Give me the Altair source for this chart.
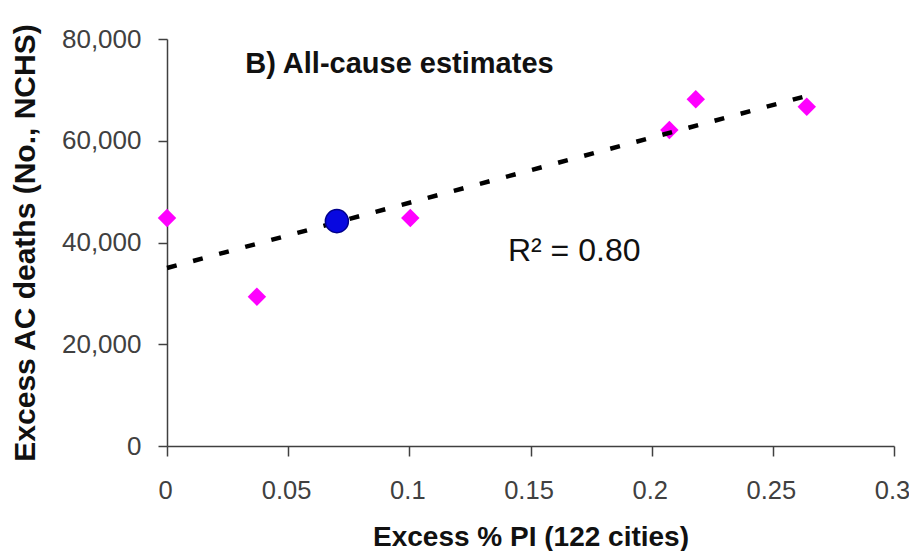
import altair as alt
import pandas as pd

# Magenta diamond estimates (Excess % PI vs excess all-cause deaths)
pi_excess = [0.0, 0.0371, 0.1004, 0.2073, 0.2182, 0.264]
ac_deaths = [44800, 29350, 44800, 62100, 68150, 66700]

# Highlighted blue estimate
blue_pi = [0.0701]
blue_ac = [44200]

# Annotations
ann_text = ["B) All-cause estimates"]
ann_x = [0.0323]
ann_y = [73260]

r2_text = ["R\u00b2 = 0.80"]
r2_x = [0.1407]
r2_y = [36400]

x_ticks = [0, 0.05, 0.1, 0.15, 0.2, 0.25, 0.3]
y_ticks = [0, 20000, 40000, 60000, 80000]

FONT = "Liberation Sans"

pts = pd.DataFrame({"x": pi_excess, "y": ac_deaths})
blue = pd.DataFrame({"x": blue_pi, "y": blue_ac})
ann = pd.DataFrame({"label": ann_text, "x": ann_x, "y": ann_y})
r2 = pd.DataFrame({"label": r2_text, "x": r2_x, "y": r2_y})

xscale = alt.Scale(domain=[0, 0.3], nice=False, zero=False)
yscale = alt.Scale(domain=[0, 80000], nice=False)

xaxis = alt.Axis(
    values=x_ticks, format="~g", title="Excess % PI (122 cities)",
    titleFontSize=28, titleFontWeight="bold", titleFont=FONT, titleColor="#111111",
    titleBaseline="alphabetic", titleY=99,
    labelFontSize=25.5, labelFont=FONT, labelColor="#404040", labelPadding=22,
    labelOffset=-2, labelFlush=False, tickSize=10, grid=False,
)
yaxis = alt.Axis(
    values=y_ticks, format=",.0f", title="Excess AC deaths (No., NCHS)",
    titleFontSize=30, titleFontWeight="bold", titleFont=FONT, titleColor="#111111",
    titleBaseline="alphabetic", titleX=-133, titleAngle=270,
    labelFontSize=26, labelFont=FONT, labelColor="#404040", labelPadding=17,
    labelFlush=False, tickSize=9, grid=False,
)

base = alt.Chart(pts)

diamonds = base.mark_point(
    shape="diamond", filled=True, size=340, color="#FF00FF", opacity=1
).encode(
    x=alt.X("x:Q", scale=xscale, axis=xaxis),
    y=alt.Y("y:Q", scale=yscale, axis=yaxis),
)

trend = base.transform_regression("x", "y").mark_line(
    color="#000000", strokeWidth=4.5, strokeDash=[10, 17], strokeCap="butt"
).encode(x="x:Q", y="y:Q")

circle = alt.Chart(blue).mark_point(
    shape="circle", filled=True, size=530, color="#0808e0",
    stroke="#00008b", strokeWidth=1.5, opacity=1
).encode(x="x:Q", y="y:Q")

title_txt = alt.Chart(ann).mark_text(
    font=FONT, fontSize=29, fontWeight="bold", align="left",
    baseline="alphabetic", color="#111111"
).encode(x="x:Q", y="y:Q", text="label:N")

r2_txt = alt.Chart(r2).mark_text(
    font=FONT, fontSize=32, align="left", baseline="alphabetic", color="#111111"
).encode(x="x:Q", y="y:Q", text="label:N")

chart = alt.layer(diamonds, trend, circle, title_txt, r2_txt).properties(
    width=727, height=407,
    autosize=alt.AutoSizeParams(type="none"),
    padding={"left": 159, "top": 31, "right": 15, "bottom": 105},
).configure_view(stroke=None).configure_axis(
    domainColor="#404040", domainWidth=1.5, tickColor="#404040", tickWidth=1.5
)

chart.save("out.html", embed_options={"renderer": "svg", "actions": False})
